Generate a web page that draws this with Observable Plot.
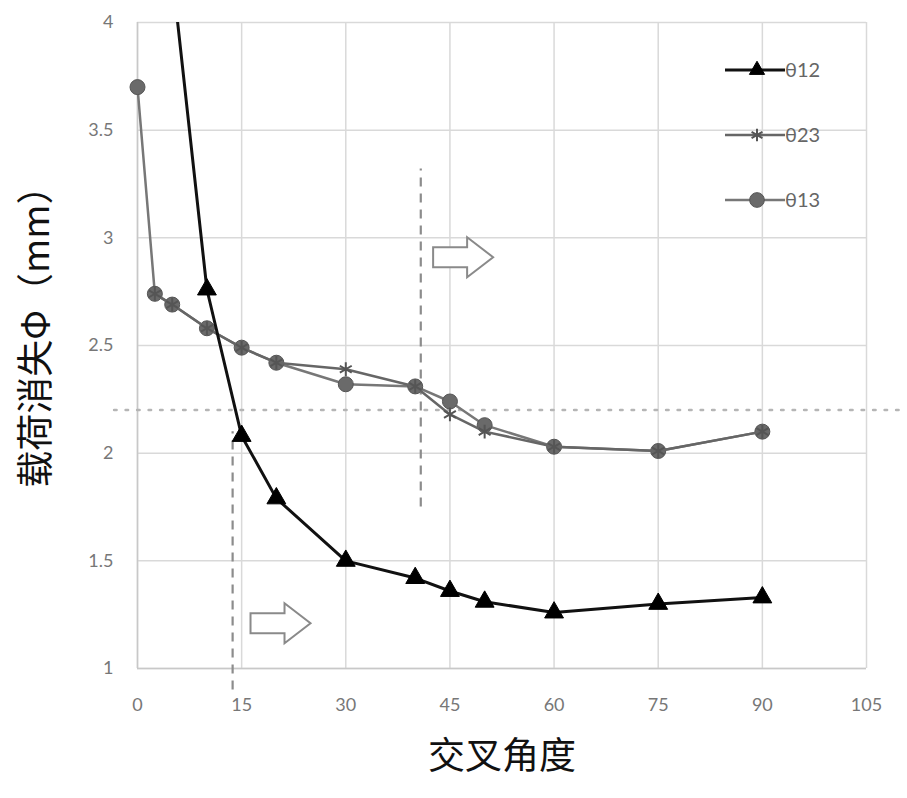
<!DOCTYPE html>
<html>
<head>
<meta charset="utf-8">
<script src="https://cdn.jsdelivr.net/npm/d3@7"></script>
<script src="https://cdn.jsdelivr.net/npm/@observablehq/plot@0.6"></script>
<style>
  html, body { margin: 0; padding: 0; background: #fff; }
  #wrap { position: relative; width: 907px; height: 798px; }
</style>
</head>
<body>
<div id="wrap"></div>
<script>
// ---- data ----
const xTicks = [0, 15, 30, 45, 60, 75, 90, 105];
const yTicks = [1, 1.5, 2, 2.5, 3, 3.5, 4];

const angles12 = [5, 10, 15, 20, 30, 40, 45, 50, 60, 75, 90];
const theta12  = [4.23, 2.76, 2.08, 1.79, 1.50, 1.42, 1.36, 1.31, 1.26, 1.30, 1.33];

const angles23 = [2.5, 5, 10, 15, 20, 30, 40, 45, 50, 60, 75, 90];
const theta23  = [2.74, 2.69, 2.58, 2.49, 2.42, 2.39, 2.31, 2.18, 2.10, 2.03, 2.01, 2.10];

const angles13 = [0, 2.5, 5, 10, 15, 20, 30, 40, 45, 50, 60, 75, 90];
const theta13  = [3.70, 2.74, 2.69, 2.58, 2.49, 2.42, 2.32, 2.31, 2.24, 2.13, 2.03, 2.01, 2.10];

const seriesNames = ["θ12", "θ23", "θ13"];

// reference lines (annotations)
const vLineX      = [13.7, 40.8];
const vLineTop    = [2.10, 3.32];
const vLineBottom = [0.90, 1.75];
const hLineY      = 2.20;
const hLineFrom   = -3.3;
const hLineTo     = 110.5;

// hollow arrows (annotations)
const arrowX = [46.9, 20.6];
const arrowY = [2.91, 1.21];

// ---- tables ----
const d12 = angles12.map((a, i) => ({x: a, y: theta12[i]}));
const d23 = angles23.map((a, i) => ({x: a, y: theta23[i]}));
const d13 = angles13.map((a, i) => ({x: a, y: theta13[i]}));
const vLines = vLineX.map((x, i) => ({x, y1: vLineBottom[i], y2: vLineTop[i]}));
const arrows = arrowX.map((x, i) => ({x, y: arrowY[i]}));

// custom hollow block-arrow symbol (size = pi r^2)
const arrowSymbol = {
  draw(context, size) {
    const s = Math.sqrt(size / Math.PI) / 10; // r = 10 -> unit scale
    const w = 30 * s, bh = 10 * s, hh = 20 * s, neck = 4 * s;
    context.moveTo(-w, -bh);
    context.lineTo(neck, -bh);
    context.lineTo(neck, -hh);
    context.lineTo(w, 0);
    context.lineTo(neck, hh);
    context.lineTo(neck, bh);
    context.lineTo(-w, bh);
    context.closePath();
  }
};

const cjk = "'Noto Sans CJK SC', sans-serif";

const chart = Plot.plot({
  width: 907,
  height: 798,
  marginLeft: 137,
  marginRight: 41,
  marginTop: 22,
  marginBottom: 130,
  style: {fontFamily: "Lato, 'Liberation Sans', sans-serif", background: "#fff"},
  x: {domain: [0, 105], ticks: xTicks, tickSize: 0, tickPadding: 30, label: null},
  y: {domain: [1, 4], ticks: yTicks, tickSize: 0, tickPadding: 24, label: null},
  marks: [
    Plot.gridX(xTicks, {stroke: "#d9d9d9", strokeOpacity: 1, strokeWidth: 1.5}),
    Plot.gridY(yTicks, {stroke: "#d9d9d9", strokeOpacity: 1, strokeWidth: 1.5}),
    Plot.ruleX([0], {stroke: "#c8c8c8", strokeWidth: 1.5}),
    Plot.ruleY([1], {stroke: "#c8c8c8", strokeWidth: 1.5}),
    Plot.axisX({ticks: xTicks, tickSize: 0, tickPadding: 30, fontSize: 18, fill: "#777", tickFormat: d => String(d)}),
    Plot.axisY({ticks: yTicks, tickSize: 0, tickPadding: 24, fontSize: 18, fill: "#777", tickFormat: d => String(d)}),
    // horizontal dotted reference line
    Plot.ruleY([hLineY], {x1: hLineFrom, x2: hLineTo, stroke: "#b5b5b5", strokeWidth: 2.5, strokeDasharray: "2.5,9", strokeLinecap: "round"}),
    // vertical dashed reference lines
    Plot.ruleX(vLines, {x: "x", y1: "y1", y2: "y2", stroke: "#8c8c8c", strokeWidth: 2.2, strokeDasharray: "9,7"}),
    // hollow arrows
    Plot.dot(arrows, {x: "x", y: "y", symbol: arrowSymbol, r: 10, fill: "#fff", stroke: "#8a8a8a", strokeWidth: 2}),
    // θ13
    Plot.line(d13, {x: "x", y: "y", stroke: "#777", strokeWidth: 2.5}),
    Plot.dot(d13, {x: "x", y: "y", r: 7.5, fill: "#6a6a6a", stroke: "#555", strokeWidth: 1}),
    // θ23
    Plot.line(d23, {x: "x", y: "y", stroke: "#666", strokeWidth: 2.5}),
    Plot.dot(d23, {x: "x", y: "y", symbol: "asterisk", r: 6.5, stroke: "#555", strokeWidth: 2}),
    // θ12
    Plot.line(d12, {x: "x", y: "y", stroke: "#111", strokeWidth: 3, clip: true}),
    Plot.dot(d12.filter(d => d.y <= 4), {x: "x", y: "y", symbol: "triangle", r: 7, fill: "#000", stroke: "#000", strokeWidth: 1}),
    // axis titles
    Plot.text(["交叉角度"], {frameAnchor: "bottom", dy: 100, text: d => d, fontSize: 37, fill: "#111", fontFamily: cjk}),
    Plot.text(["载荷消失Φ（mm）"], {frameAnchor: "left", textAnchor: "middle", dx: -100, dy: -18, rotate: -90, text: d => d, fontSize: 37, fill: "#111", fontFamily: cjk})
  ]
});
document.getElementById("wrap").appendChild(chart);

// ---- legend (inside plot, top right) ----
const leg = d3.select("#wrap").append("svg")
  .attr("width", 150).attr("height", 175)
  .style("position", "absolute").style("left", "722px").style("top", "40px");
const legStyles = [
  {stroke: "#111", width: 3, symbol: d3.symbolTriangle, fill: "#000", sStroke: "#000", sw: 1, size: 100},
  {stroke: "#666", width: 2.5, symbol: d3.symbolAsterisk, fill: "none", sStroke: "#555", sw: 2, size: 110},
  {stroke: "#777", width: 2.5, symbol: d3.symbolCircle, fill: "#6a6a6a", sStroke: "#555", sw: 1, size: 170}
];
seriesNames.forEach((name, i) => {
  const s = legStyles[i];
  const g = leg.append("g").attr("transform", `translate(0,${30 + i * 65})`);
  g.append("line").attr("x1", 3).attr("x2", 63).attr("y1", 0).attr("y2", 0)
    .attr("stroke", s.stroke).attr("stroke-width", s.width);
  g.append("path").attr("transform", "translate(35,0)")
    .attr("d", d3.symbol(s.symbol, s.size)())
    .attr("fill", s.fill).attr("stroke", s.sStroke).attr("stroke-width", s.sw);
  g.append("text").attr("x", 63).attr("y", 7).text(name)
    .attr("font-size", 20).attr("fill", "#666")
    .attr("font-family", "Lato, 'Liberation Sans', sans-serif");
});
</script>
</body>
</html>
